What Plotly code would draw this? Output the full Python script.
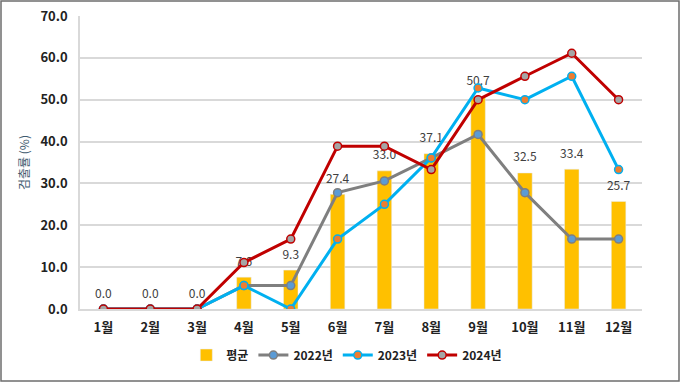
import plotly.graph_objects as go

months = ["1월", "2월", "3월", "4월", "5월", "6월", "7월", "8월", "9월", "10월", "11월", "12월"]
avg = [0.0, 0.0, 0.0, 7.6, 9.3, 27.4, 33.0, 37.1, 50.7, 32.5, 33.4, 25.7]
y2022 = [0.0, 0.0, 0.0, 5.6, 5.6, 27.8, 30.6, 36.1, 41.7, 27.8, 16.7, 16.7]
y2023 = [0.0, 0.0, 0.0, 5.6, 0.0, 16.7, 25.0, 36.1, 52.8, 50.0, 55.6, 33.3]
y2024 = [0.0, 0.0, 0.0, 11.1, 16.7, 38.9, 38.9, 33.3, 50.0, 55.6, 61.1, 50.0]
yticks = [0, 10, 20, 30, 40, 50, 60, 70]

W, H = 680, 383
ML, MR, MT, MB = 80, 38, 16, 74
FONT = "Noto Sans CJK KR"

fig = go.Figure()
fig.add_trace(go.Bar(
    x=months, y=avg, name="평균", marker_color="#FFC000", width=0.31,
))
# value labels of the average bars (drawn beneath the lines)
fig.add_trace(go.Scatter(
    x=months, y=avg, mode="markers+text", showlegend=False, hoverinfo="skip",
    text=[f"{v:.1f}" for v in avg], textposition="top center",
    marker=dict(size=12, opacity=0),
    textfont=dict(family=FONT, size=12, color="#404040"), cliponaxis=False,
))
fig.add_trace(go.Scatter(
    x=months, y=y2022, name="2022년", mode="lines+markers",
    line=dict(color="#7F7F7F", width=3),
    marker=dict(size=8, color="#5B9BD5", line=dict(color="#7F7F7F", width=1.5)),
))
fig.add_trace(go.Scatter(
    x=months, y=y2023, name="2023년", mode="lines+markers",
    line=dict(color="#00B0F0", width=3),
    marker=dict(size=8, color="#ED7D31", line=dict(color="#00B0F0", width=1.5)),
))
fig.add_trace(go.Scatter(
    x=months, y=y2024, name="2024년", mode="lines+markers",
    line=dict(color="#C00000", width=3),
    marker=dict(size=8, color="#A5A5A5", line=dict(color="#C00000", width=1.5)),
))

pw = W - ML - MR
ph = H - MT - MB
fig.add_shape(
    type="rect", xref="paper", yref="paper",
    x0=-(ML - 1) / pw, x1=(W - ML - 1) / pw,
    y0=-(MB - 2) / ph, y1=1 + (MT - 1) / ph,
    line=dict(color="#6E6E6E", width=1.5), fillcolor="rgba(0,0,0,0)", layer="above",
)

fig.update_layout(
    width=W, height=H,
    margin=dict(l=ML, r=MR, t=MT, b=MB, autoexpand=False),
    paper_bgcolor="white", plot_bgcolor="white",
    font=dict(family=FONT, color="#222222"),
    showlegend=True,
    legend=dict(
        orientation="h", xref="container", yref="container",
        x=0.51, xanchor="center", y=0.073, yanchor="middle",
        font=dict(family=FONT, size=12, color="#222222", weight="bold"),
        itemwidth=30, traceorder="normal",
    ),
    xaxis=dict(
        range=[-0.5, len(months) - 0.5], autorange=False,
        showgrid=False, showline=True, linecolor="#D9D9D9", linewidth=1.5,
        tickfont=dict(family=FONT, size=13, color="#222222", weight="bold"),
        ticklabelstandoff=6, automargin=False,
    ),
    yaxis=dict(
        range=[0, 70], tickvals=yticks, tickformat=".1f",
        showgrid=True, gridcolor="#D9D9D9", gridwidth=1.5,
        showline=True, linecolor="#D9D9D9", linewidth=1.5,
        zeroline=False, automargin=False,
        tickfont=dict(family=FONT, size=13, color="#222222", weight="bold"),
        ticklabelstandoff=8,
        title=dict(text="검출률 (%)", font=dict(family=FONT, size=12, color="#3E5A6E"), standoff=8),
    ),
    bargap=0.69,
)

fig.write_html("out.html", config={"displayModeBar": False},
               post_script="document.body.style.margin='0';")
